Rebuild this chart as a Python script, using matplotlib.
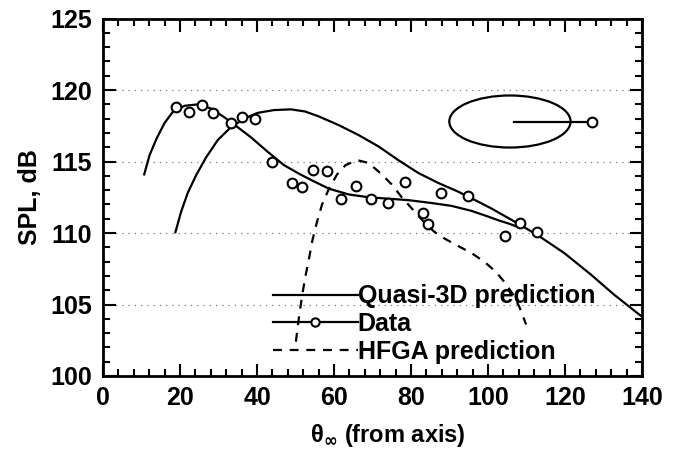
import matplotlib
matplotlib.use("Agg")
import matplotlib.pyplot as plt
from matplotlib.patches import Ellipse
from matplotlib.lines import Line2D
from matplotlib.ticker import MultipleLocator

plt.rcParams["font.family"] = ["Liberation Sans", "DejaVu Sans"]
plt.rcParams["font.weight"] = "bold"
plt.rcParams["mathtext.fontset"] = "dejavusans"

# measured data points
data_theta = [19.0, 22.3, 25.7, 28.7, 33.2, 36.0, 39.5, 43.8, 49.0, 51.6, 54.6, 58.1,
              61.7, 65.7, 69.7, 74.0, 78.5, 83.2, 84.3, 87.8, 94.8, 104.3, 108.4, 112.7]
data_spl = [118.8, 118.5, 118.95, 118.4, 117.7, 118.1, 117.95, 115.0, 113.5, 113.2, 114.4, 114.35,
            112.4, 113.3, 112.4, 112.1, 113.6, 111.4, 110.6, 112.8, 112.6, 109.8, 110.7, 110.1]

# smooth curve through the data
fit_theta = [10.7, 12.1, 13.9, 16.0, 18.2, 21.2, 24.6, 28.1, 31.5, 35.0, 38.4, 42.7, 47.0,
             50.9, 54.5, 58.7, 63.8, 69.0, 74.2, 79.3, 85.3, 90.5, 95.7, 99.5, 102.6, 105.5, 108.0]
fit_spl = [114.1, 115.45, 116.6, 117.7, 118.5, 118.9, 119.0, 118.7, 118.1, 117.4, 116.7, 115.7, 114.75,
           114.15, 113.65, 113.1, 112.7, 112.5, 112.4, 112.3, 112.1, 111.9, 111.55, 111.2, 110.9, 110.65, 110.4]

# Quasi-3D prediction
q3d_theta = [18.8, 20.3, 22.0, 24.2, 26.8, 29.8, 33.2, 36.7, 40.1, 44.4, 48.8, 52.5, 56.1, 61.2,
             66.4, 71.6, 76.7, 81.9, 87.1, 92.2, 97.4, 101.0, 106.9, 112.9, 119.8, 126.7, 132.7, 138.8, 140.0]
q3d_spl = [110.05, 111.5, 112.8, 114.05, 115.3, 116.5, 117.4, 118.0, 118.4, 118.6, 118.65, 118.5, 118.15, 117.55,
           116.85, 116.05, 115.1, 114.2, 113.5, 112.9, 112.2, 111.7, 110.8, 109.85, 108.6, 107.1, 105.7, 104.4, 104.15]

# HFGA prediction
hfga_theta = [50.1, 50.8, 51.7, 52.6, 53.5, 54.4, 55.6, 56.9, 58.7, 60.8, 63.0, 66.0, 69.0, 72.0,
              75.0, 77.6, 80.6, 83.6, 86.0, 88.8, 92.2, 95.7, 99.0, 102.0, 104.5, 106.5, 108.2, 109.9]
hfga_spl = [102.4, 103.9, 105.6, 107.0, 108.2, 109.5, 110.8, 112.0, 113.1, 114.1, 114.75, 115.1, 114.9, 114.2,
            113.4, 112.5, 111.6, 110.7, 110.1, 109.6, 109.1, 108.6, 108.0, 107.3, 106.5, 105.7, 104.8, 103.6]

labels = ["Quasi-3D prediction", "Data", "HFGA prediction"]

INK = "black"
fig = plt.figure(figsize=(6.79, 4.53), dpi=100)
ax = fig.add_axes([0.1517, 0.170, 0.7938, 0.789])

ax.plot(q3d_theta, q3d_spl, color=INK, lw=1.6)
ax.plot(fit_theta, fit_spl, color=INK, lw=1.6)
ax.plot(data_theta, data_spl, ls="none", marker="o", ms=7, mfc="white", mec=INK, mew=1.5)
ax.plot(hfga_theta, hfga_spl, color=INK, lw=1.6, ls=(0, (4, 3.5)))

# directivity sketch (ellipse + arm)
ell_c, ell_w, ell_h = (105.7, 117.8), 31.5, 3.64
ax.add_patch(Ellipse(ell_c, ell_w, ell_h, fill=False, ec=INK, lw=1.6))
ax.plot([106.7, 126.0], [ell_c[1], ell_c[1]], color=INK, lw=1.6)
ax.plot([126.9], [ell_c[1]], marker="o", ms=7, mfc="white", mec=INK, mew=1.5)

ax.set_xlim(0, 140)
ax.set_ylim(100, 125)
ax.xaxis.set_major_locator(MultipleLocator(20))
ax.xaxis.set_minor_locator(MultipleLocator(4))
ax.yaxis.set_major_locator(MultipleLocator(5))
ax.yaxis.set_minor_locator(MultipleLocator(1))
ax.tick_params(which="both", direction="in", top=True, right=True, width=1.5)
ax.tick_params(which="major", length=9)
ax.tick_params(which="minor", length=5)
ax.tick_params(axis="x", which="major", labelsize=18, pad=7)
ax.tick_params(axis="y", which="major", labelsize=18, pad=8)
for s in ax.spines.values():
    s.set_linewidth(2.0)
ax.grid(axis="y", which="major", color="#777777", lw=0.9, ls=(0, (1, 4)))

ax.set_xlabel(r"θ$_{\infty}$ (from axis)", fontsize=17, fontweight="bold")
ax.xaxis.set_label_coords(0.528, -0.13)
ax.set_ylabel("SPL, dB", fontsize=18, fontweight="bold", labelpad=6)

handles = [Line2D([], [], color=INK, lw=1.6),
           Line2D([], [], color=INK, lw=1.6, marker="o", ms=6, mfc="white", mec=INK, mew=1.5),
           Line2D([], [], color=INK, lw=1.6, ls=(0, (4, 3.5)))]
leg = ax.legend(handles, labels, loc="lower left", bbox_to_anchor=(0.315, 0.034),
                frameon=False, fontsize=18, handlelength=3.4, handletextpad=0.0,
                labelspacing=0.15, borderpad=0, borderaxespad=0)
for t in leg.get_texts():
    t.set_fontweight("bold")

fig.savefig("out.png", dpi=100)
